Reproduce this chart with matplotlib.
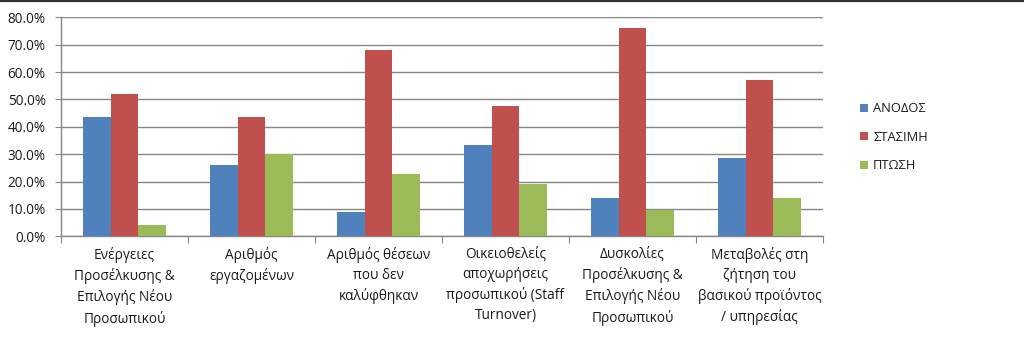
import matplotlib
matplotlib.use("Agg")
import matplotlib.pyplot as plt
import numpy as np
from matplotlib.ticker import PercentFormatter, FixedLocator

plt.rcParams['font.family'] = ['Open Sans', 'DejaVu Sans']

categories = [
    "Ενέργειες\nΠροσέλκυσης &\nΕπιλογής Νέου\nΠροσωπικού",
    "Αριθμός\nεργαζομένων",
    "Αριθμός θέσεων\nπου δεν\nκαλύφθηκαν",
    "Οικειοθελείς\nαποχωρήσεις\nπροσωπικού (Staff\nTurnover)",
    "Δυσκολίες\nΠροσέλκυσης &\nΕπιλογής Νέου\nΠροσωπικού",
    "Μεταβολές στη\nζήτηση του\nβασικού προϊόντος\n/ υπηρεσίας",
]
series_names = ["ΑΝΟΔΟΣ", "ΣΤΑΣΙΜΗ", "ΠΤΩΣΗ"]
anodos = [43.5, 26.0, 8.9, 33.3, 14.1, 28.6]
stasimi = [52.1, 43.5, 68.1, 47.5, 76.1, 57.1]
ptosi = [4.3, 30.2, 22.8, 19.1, 9.5, 14.1]
colors = ["#4F81BD", "#C0504D", "#9BBB59"]
yticks = [0, 10, 20, 30, 40, 50, 60, 70, 80]

fig = plt.figure(figsize=(10.24, 3.48), dpi=100)
ax = fig.add_axes([61 / 1024, 1 - 236.3 / 348, 762 / 1024, 219 / 348])

x = np.arange(len(categories))
w = 0.22
for i, (vals, name, c) in enumerate(zip([anodos, stasimi, ptosi], series_names, colors)):
    ax.bar(x + (i - 1) * w, vals, width=w, color=c, label=name, zorder=3)

ax.set_xlim(-0.5, len(categories) - 0.5)
ax.set_ylim(0, 80)
ax.yaxis.set_major_locator(FixedLocator(yticks))
ax.yaxis.set_major_formatter(PercentFormatter(decimals=1))
ax.grid(axis='y', color='#868686', linewidth=1, zorder=0)

# category boundaries as major ticks, labels centred as minor ticks
ax.set_xticks(np.arange(-0.5, len(categories), 1.0))
ax.set_xticklabels([])
ax.set_xticks(x, minor=True)
ax.set_xticklabels(categories, minor=True, fontsize=9.8, linespacing=1.42, color='#1a1a1a')
ax.tick_params(axis='x', which='minor', length=0, pad=8)
ax.tick_params(axis='x', which='major', length=5, color='#868686')
ax.tick_params(axis='y', length=4, color='#868686', labelsize=9.8, labelcolor='#1a1a1a', pad=7)

for s in ['top', 'right']:
    ax.spines[s].set_visible(False)
for s in ['left', 'bottom']:
    ax.spines[s].set_color('#868686')
    ax.spines[s].set_linewidth(1)

leg = fig.legend(loc='upper left', bbox_to_anchor=(855 / 1024, 1 - 97 / 348),
                 frameon=False, fontsize=9.3, handlelength=0.6, handleheight=0.6,
                 handletextpad=0.4, labelspacing=1.2, borderaxespad=0)
for t in leg.get_texts():
    t.set_color('#1a1a1a')

# dark rule across the top edge
fig.add_artist(plt.Line2D([0, 1], [1 - 1 / 348, 1 - 1 / 348], color='#333333',
                          linewidth=1.6, transform=fig.transFigure))

fig.savefig("out.png", dpi=100)
